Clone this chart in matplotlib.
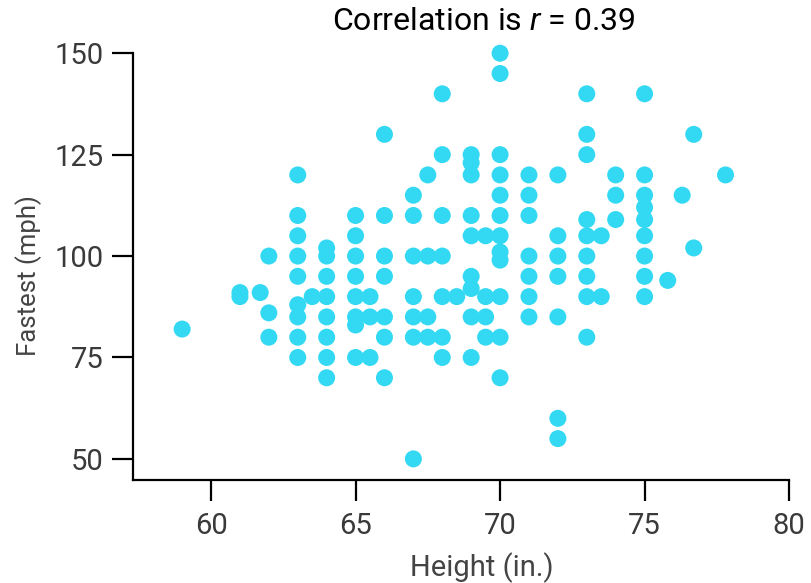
import matplotlib
matplotlib.use("Agg")
import matplotlib.pyplot as plt

plt.rcParams['font.family'] = ['Roboto', 'DejaVu Sans']
plt.rcParams['mathtext.fontset'] = 'custom'
plt.rcParams['mathtext.it'] = 'Roboto:italic'
plt.rcParams['mathtext.rm'] = 'Roboto'

# height (in.) and fastest speed ever driven (mph), read column by column
height = [59,
          61, 61, 61.7,
          62, 62, 62,
          63, 63, 63, 63, 63, 63, 63, 63, 63,
          63.5,
          64, 64, 64, 64, 64, 64, 64, 64,
          65, 65, 65, 65, 65, 65, 65, 65,
          65.5, 65.5, 65.5,
          66, 66, 66, 66, 66, 66, 66,
          67, 67, 67, 67, 67, 67, 67,
          67.5, 67.5, 67.5, 67.5,
          68, 68, 68, 68, 68, 68, 68,
          68.5,
          69, 69, 69, 69, 69, 69, 69, 69, 69,
          69.5, 69.5, 69.5, 69.5,
          70, 70, 70, 70, 70, 70, 70, 70, 70, 70, 70, 70,
          71, 71, 71, 71, 71, 71, 71,
          72, 72, 72, 72, 72, 72, 72,
          73, 73, 73, 73, 73, 73, 73, 73, 73,
          73.5, 73.5,
          74, 74, 74,
          75, 75, 75, 75, 75, 75, 75, 75, 75,
          75.8, 76.3,
          76.7, 76.7,
          77.8]
fastest = [82,
           90, 91, 91,
           100, 86, 80,
           120, 110, 105, 100, 95, 88, 85, 80, 75,
           90,
           102, 100, 95, 90, 85, 80, 75, 70,
           110, 105, 100, 95, 90, 85, 83, 75,
           90, 85, 75,
           130, 110, 100, 95, 85, 80, 70,
           115, 110, 100, 90, 85, 80, 50,
           120, 100, 85, 80,
           140, 125, 110, 100, 90, 80, 75,
           90,
           125, 123, 120, 110, 105, 95, 92, 85, 75,
           105, 90, 85, 80,
           150, 145, 125, 120, 115, 110, 105, 101, 99, 90, 80, 70,
           120, 115, 110, 100, 95, 90, 85,
           120, 105, 100, 95, 85, 60, 55,
           140, 130, 125, 109, 105, 100, 95, 90, 80,
           105, 90,
           120, 115, 109,
           140, 120, 115, 112, 109, 105, 100, 95, 90,
           94, 115,
           130, 102,
           120]

x_ticks = [60, 65, 70, 75, 80]
y_ticks = [50, 75, 100, 125, 150]

fig = plt.figure(figsize=(8.11, 5.83), dpi=100)
ax = fig.add_axes([0.164, 0.1767, 0.809, 0.732])

ax.scatter(height, fastest, s=150, color='#33d9f2', edgecolors='none', clip_on=False, zorder=3)

ax.set_xlim(57.3, 80)
ax.set_ylim(44.8, 150)
ax.set_xticks(x_ticks)
ax.set_yticks(y_ticks)
ax.spines['top'].set_visible(False)
ax.spines['right'].set_visible(False)
for s in ('left', 'bottom'):
    ax.spines[s].set_linewidth(1.6)
ax.tick_params(direction='out', length=15, width=1.6, color='black',
               labelsize=21, labelcolor='#3a3a3a')
ax.tick_params(axis='y', pad=6)
ax.tick_params(axis='x', pad=8)

fig.text(482 / 811, 7 / 583, 'Height (in.)', ha='center', va='baseline',
         fontsize=21, color='#444444')
fig.text(29 / 811, 1 - 276 / 583, 'Fastest (mph)', ha='center', va='center',
         rotation=90, fontsize=18.5, color='#444444')
fig.text(484 / 811, 1 - 30 / 583, 'Correlation is $r$ = 0.39', ha='center',
         va='baseline', fontsize=23, color='black')

fig.savefig('out.png', dpi=100)
